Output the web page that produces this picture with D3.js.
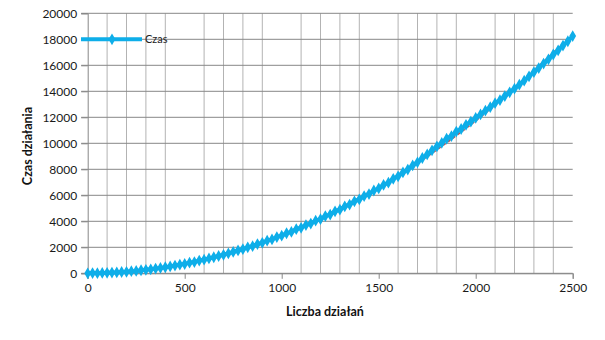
<!DOCTYPE html>
<html>
<head>
<meta charset="utf-8">
<script src="https://cdn.jsdelivr.net/npm/d3@7"></script>
<style>
  html, body { margin: 0; padding: 0; background: #fff; }
  svg { display: block; font-family: Lato, "Open Sans", sans-serif; }
</style>
</head>
<body>
<svg id="chart" width="605" height="340"></svg>
<script>
// Liczba działań (x) and measured time (y)
const counts = [
  0, 25, 50, 75, 100, 125, 150, 175, 200, 225, 250, 275, 300, 325, 350, 375, 400, 425, 450, 475,
  500, 525, 550, 575, 600, 625, 650, 675, 700, 725, 750, 775, 800, 825, 850, 875, 900, 925, 950, 975,
  1000, 1025, 1050, 1075, 1100, 1125, 1150, 1175, 1200, 1225, 1250, 1275, 1300, 1325, 1350, 1375, 1400, 1425, 1450, 1475,
  1500, 1525, 1550, 1575, 1600, 1625, 1650, 1675, 1700, 1725, 1750, 1775, 1800, 1825, 1850, 1875, 1900, 1925, 1950, 1975,
  2000, 2025, 2050, 2075, 2100, 2125, 2150, 2175, 2200, 2225, 2250, 2275, 2300, 2325, 2350, 2375, 2400, 2425, 2450, 2475,
  2500
]
const times = [
  0, 15, 10, 30, 35, 55, 68, 100, 118, 160, 178, 235, 265, 310, 360, 415, 465, 530, 595, 660,
  715, 820, 865, 980, 1045, 1140, 1235, 1330, 1425, 1530, 1640, 1755, 1855, 2000, 2085, 2250, 2345, 2510, 2605, 2790,
  2895, 3080, 3185, 3390, 3495, 3710, 3825, 4050, 4165, 4400, 4515, 4770, 4895, 5140, 5285, 5540, 5685, 5940, 6095, 6370,
  6525, 6800, 6975, 7270, 7460, 7760, 7980, 8300, 8540, 8870, 9140, 9460, 9760, 10030, 10350, 10560, 10900, 11100, 11420, 11660,
  11950, 12220, 12510, 12780, 13090, 13320, 13630, 13920, 14200, 14510, 14820, 15150, 15470, 15790, 16130, 16460, 16830, 17150, 17520, 17850,
  18250
]
const xTicks = [0, 500, 1000, 1500, 2000, 2500]
const xMinor = [100, 200, 300, 400, 600, 700, 800, 900, 1100, 1200, 1300, 1400,
  1600, 1700, 1800, 1900, 2100, 2200, 2300, 2400]
const yTicks = [0, 2000, 4000, 6000, 8000, 10000, 12000, 14000, 16000, 18000, 20000]
const seriesName = 'Czas'

const BLUE = '#0eaee9'
const RED = '#c0504d'
const plot = { left: 87.7, right: 572.7, top: 13.3, bottom: 273.3 }

const svg = d3.select('#chart')
const x = d3.scaleLinear().domain([0, 2500]).range([plot.left, plot.right])
const y = d3.scaleLinear().domain([0, 20000]).range([plot.bottom, plot.top])

// gridlines
svg.append('g').selectAll('line').data(xMinor).enter().append('line')
    .attr('x1', d => x(d)).attr('x2', d => x(d))
    .attr('y1', plot.top).attr('y2', plot.bottom)
    .attr('stroke', '#b3b3b3').attr('stroke-width', 1)

svg.append('g').selectAll('line').data(yTicks).enter().append('line')
    .attr('x1', plot.left - 6.5).attr('x2', plot.right)
    .attr('y1', d => y(d)).attr('y2', d => y(d))
    .attr('stroke', '#878787').attr('stroke-width', 1)

// y axis
const yAxis = svg.append('g')
    .attr('transform', `translate(${plot.left},0)`)
    .call(d3.axisLeft(y).tickValues(yTicks).tickSize(6.5).tickPadding(4).tickFormat(d3.format('d')))
yAxis.select('.domain').attr('stroke', '#878787')
yAxis.selectAll('.tick line').attr('stroke', '#878787')
yAxis.selectAll('text').attr('fill', '#1a1a1a').style('font-size', '12px').style('font-family', 'Lato')

// x axis
const xAxis = svg.append('g')
    .attr('transform', `translate(0,${plot.bottom})`)
    .call(d3.axisBottom(x).tickValues(xTicks).tickSize(5.5).tickPadding(5).tickFormat(d3.format('d')))
xAxis.select('.domain').attr('stroke', '#878787')
xAxis.selectAll('.tick line').attr('stroke', '#878787')
xAxis.selectAll('text').attr('fill', '#1a1a1a').style('font-size', '12px').style('font-family', 'Lato')

// axis titles
svg.append('text')
    .attr('transform', 'translate(32,146) rotate(-90)')
    .attr('text-anchor', 'middle')
    .style('font-size', '12.5px').style('font-weight', 'bold')
    .attr('fill', '#111')
    .text('Czas działania')

svg.append('text')
    .attr('x', 325).attr('y', 316)
    .attr('text-anchor', 'middle')
    .style('font-size', '12.5px').style('font-weight', 'bold')
    .attr('fill', '#111')
    .text('Liczba działań')

// polynomial (order 2) trendline, least squares fit of the data
function fitQuadratic(xs, ys) {
    const S = [[0, 0, 0], [0, 0, 0], [0, 0, 0]]
    const B = [0, 0, 0]
    xs.forEach((xv, i) => {
        const p = [1, xv, xv * xv]
        for (let r = 0; r < 3; r++) {
            for (let c = 0; c < 3; c++) S[r][c] += p[r] * p[c]
            B[r] += p[r] * ys[i]
        }
    })
    for (let k = 0; k < 3; k++) {
        for (let r = k + 1; r < 3; r++) {
            const f = S[r][k] / S[k][k]
            for (let c = k; c < 3; c++) S[r][c] -= f * S[k][c]
            B[r] -= f * B[k]
        }
    }
    const coef = [0, 0, 0]
    for (let r = 2; r >= 0; r--) {
        let s = B[r]
        for (let c = r + 1; c < 3; c++) s -= S[r][c] * coef[c]
        coef[r] = s / S[r][r]
    }
    return coef
}
const coef = fitQuadratic(counts, times)
const trend = counts.map(n => ({ n, v: coef[0] + coef[1] * n + coef[2] * n * n }))

svg.append('path').datum(trend)
    .attr('fill', 'none')
    .attr('stroke', RED)
    .attr('stroke-width', 2.5)
    .attr('stroke-dasharray', '3,3')
    .attr('d', d3.line().x(d => x(d.n)).y(d => y(Math.max(0, d.v))))

// data series
const data = counts.map((n, i) => ({ n, v: times[i] }))
svg.append('path').datum(data)
    .attr('fill', 'none')
    .attr('stroke', BLUE)
    .attr('stroke-width', 4)
    .attr('d', d3.line().x(d => x(d.n)).y(d => y(d.v)))

const diamond = d3.symbol().type(d3.symbolDiamond).size(40)
svg.append('g').selectAll('path').data(data).enter().append('path')
    .attr('transform', d => `translate(${x(d.n)},${y(d.v)})`)
    .attr('d', diamond)
    .attr('fill', BLUE)

// legend
const legend = svg.append('g').attr('transform', `translate(81,${y(18000)})`)
legend.append('line')
    .attr('x1', 0).attr('x2', 61).attr('y1', 0).attr('y2', 0)
    .attr('stroke', BLUE).attr('stroke-width', 4)
legend.append('path')
    .attr('transform', 'translate(31,0)')
    .attr('d', diamond)
    .attr('fill', BLUE)
legend.append('text')
    .attr('x', 64).attr('y', 4)
    .style('font-size', '11px')
    .attr('fill', '#222')
    .text(seriesName)
</script>
</body>
</html>
